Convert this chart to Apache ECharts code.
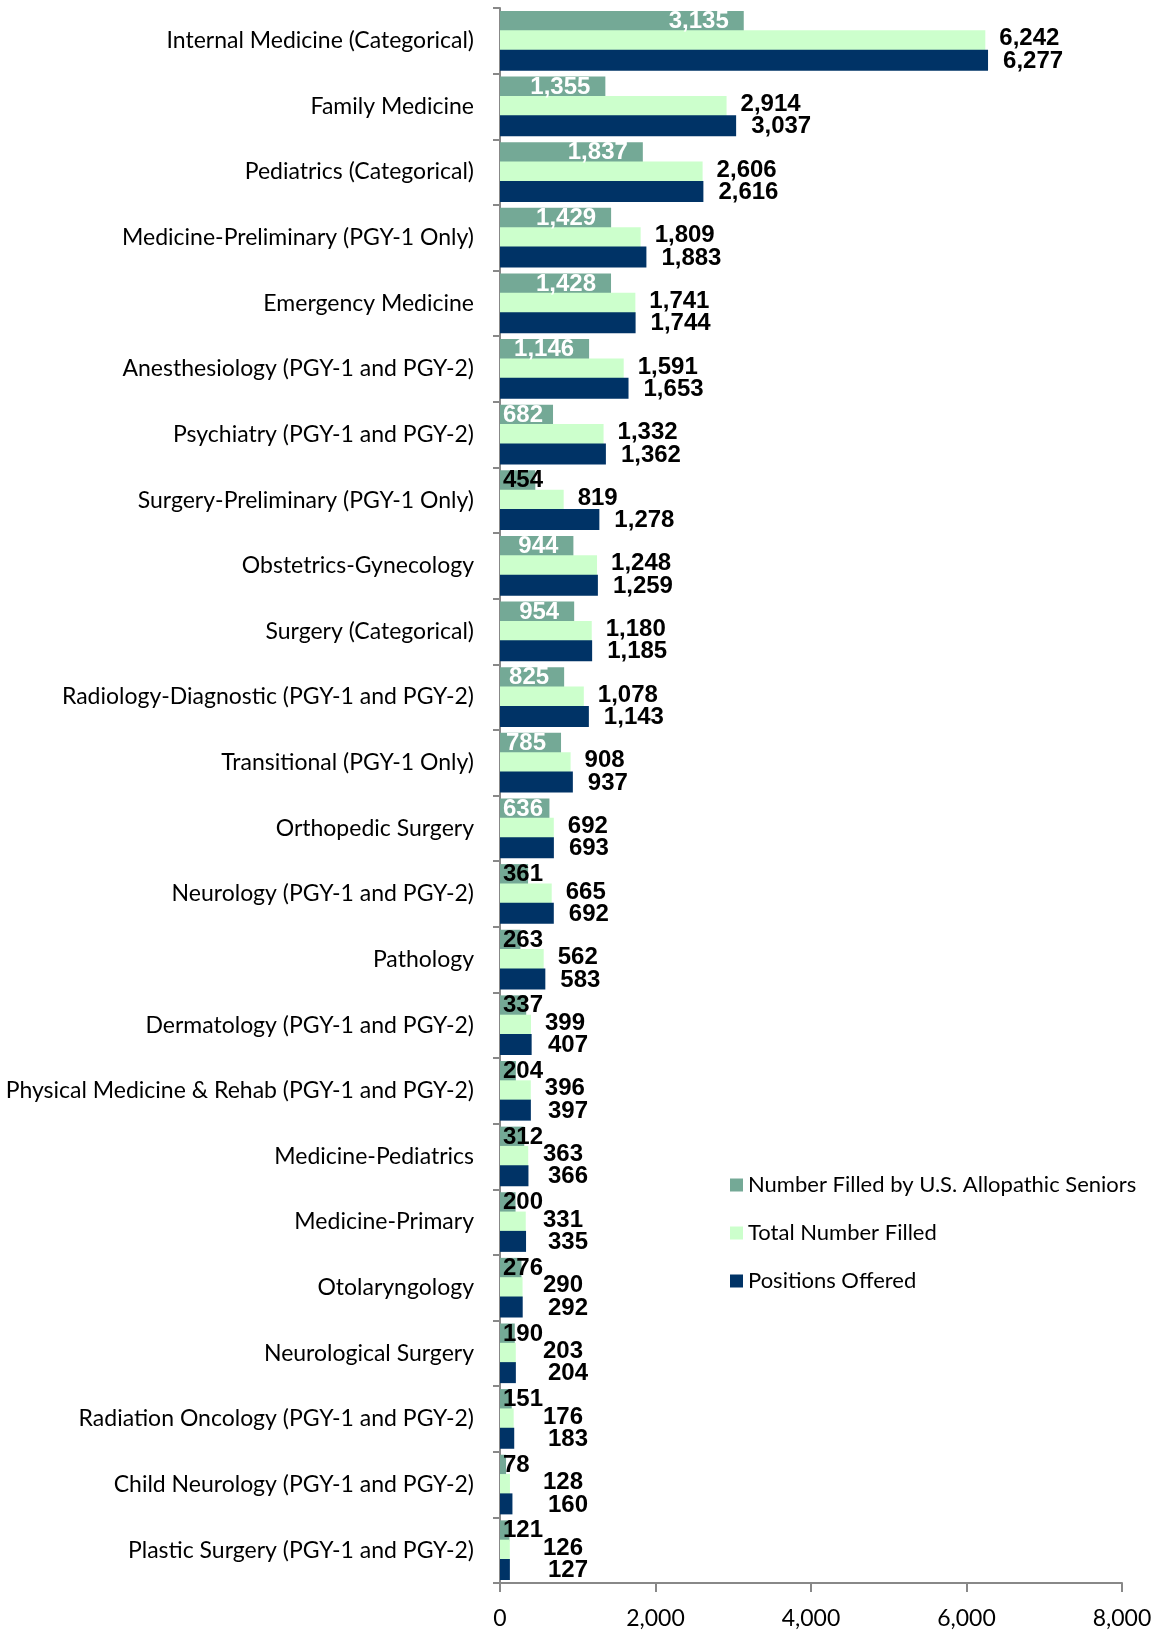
<!DOCTYPE html>
<html>
<head>
<meta charset="utf-8">
<script src="https://cdn.jsdelivr.net/npm/echarts@6/dist/echarts.min.js"></script>
<style>
  html, body { margin: 0; padding: 0; background: #fff; }
  #matchChart { width: 1157px; height: 1631px; }
</style>
</head>
<body>
<div id="matchChart"></div>
<script>
// specialties, top to bottom
let specialties = [
  "Internal Medicine (Categorical)",
  "Family Medicine",
  "Pediatrics (Categorical)",
  "Medicine-Preliminary (PGY-1 Only)",
  "Emergency Medicine",
  "Anesthesiology (PGY-1 and PGY-2)",
  "Psychiatry (PGY-1 and PGY-2)",
  "Surgery-Preliminary (PGY-1 Only)",
  "Obstetrics-Gynecology",
  "Surgery (Categorical)",
  "Radiology-Diagnostic (PGY-1 and PGY-2)",
  "Transitional (PGY-1 Only)",
  "Orthopedic Surgery",
  "Neurology (PGY-1 and PGY-2)",
  "Pathology",
  "Dermatology (PGY-1 and PGY-2)",
  "Physical Medicine & Rehab (PGY-1 and PGY-2)",
  "Medicine-Pediatrics",
  "Medicine-Primary",
  "Otolaryngology",
  "Neurological Surgery",
  "Radiation Oncology (PGY-1 and PGY-2)",
  "Child Neurology (PGY-1 and PGY-2)",
  "Plastic Surgery (PGY-1 and PGY-2)",
];

let filledBySeniors = [3135, 1355, 1837, 1429, 1428, 1146, 682, 454, 944, 954, 825, 785, 636, 361, 263, 337, 204, 312, 200, 276, 190, 151, 78, 121];
let totalFilled = [6242, 2914, 2606, 1809, 1741, 1591, 1332, 819, 1248, 1180, 1078, 908, 692, 665, 562, 399, 396, 363, 331, 290, 203, 176, 128, 126];
let positionsOffered = [6277, 3037, 2616, 1883, 1744, 1653, 1362, 1278, 1259, 1185, 1143, 937, 693, 692, 583, 407, 397, 366, 335, 292, 204, 183, 160, 127];

let seriesNames = ["Number Filled by U.S. Allopathic Seniors", "Total Number Filled", "Positions Offered"];
let xTicks = [0, 2000, 4000, 6000, 8000];

let myChart = echarts.init(document.getElementById("matchChart"));

const fmt = (v) => v.toLocaleString("en-US");
const labelFont = { fontFamily: "Liberation Sans, Arial, sans-serif", fontWeight: "bold", fontSize: 24 };
const textFont = "Lato, sans-serif";
const gridLeft = 500;

// green labels: white inside the bar when the bar is wide enough, otherwise black at the base
let seniorsData = filledBySeniors.map((v) => {
  let inside = v >= 600;
  return {
    value: v,
    label: inside
      ? { position: "insideRight", distance: 15, color: "#fff" }
      : { position: "insideLeft", distance: 3, color: "#000" },
  };
});

// keep small-bar labels from crowding the axis, dy nudges them a little up/down
const minLabelX = (minX, dy) => (p) => ({
  x: Math.max(p.labelRect.x, gridLeft + minX),
  y: p.labelRect.y + dy,
  align: "left",
  verticalAlign: "top",
});

myChart.setOption({
  animation: false,
  color: ["#74A996", "#CCFFCC", "#003366"],
  grid: { left: gridLeft, right: 35, top: 8, bottom: 48, containLabel: false },
  legend: {
    orient: "vertical",
    left: 725,
    top: 1169,
    itemWidth: 13,
    itemHeight: 13,
    itemGap: 26,
    icon: "rect",
    textStyle: { fontFamily: textFont, fontSize: 22, lineHeight: 22, color: "#000" },
    data: seriesNames,
  },
  xAxis: {
    type: "value",
    min: 0,
    max: 8000,
    interval: 2000,
    axisLine: { show: true, lineStyle: { color: "#888", width: 2 } },
    axisTick: { show: true, length: 9, lineStyle: { color: "#888", width: 2 } },
    splitLine: { show: false },
    axisLabel: {
      fontFamily: textFont,
      fontSize: 23,
      color: "#000",
      margin: 24,
      formatter: (v) => (xTicks.includes(v) ? fmt(v) : ""),
    },
  },
  yAxis: {
    type: "category",
    inverse: true,
    data: specialties,
    axisLine: { show: true, lineStyle: { color: "#888", width: 2 } },
    axisTick: { show: true, length: 7, lineStyle: { color: "#888", width: 2 } },
    axisLabel: { fontFamily: textFont, fontSize: 23, color: "#000", margin: 26 },
  },
  series: [
    {
      name: seriesNames[0],
      type: "bar",
      barWidth: 21,
      barGap: "-8%",
      data: seniorsData,
      label: { show: true, ...labelFont, formatter: (p) => fmt(p.value) },
      labelLayout: minLabelX(3, 0),
    },
    {
      name: seriesNames[1],
      type: "bar",
      barWidth: 21,
      barGap: "-8%",
      data: totalFilled,
      label: { show: true, position: "right", distance: 14, color: "#000", ...labelFont, formatter: (p) => fmt(p.value) },
      labelLayout: minLabelX(43, -2),
    },
    {
      name: seriesNames[2],
      type: "bar",
      barWidth: 21,
      barGap: "-8%",
      data: positionsOffered,
      label: { show: true, position: "right", distance: 15, color: "#000", ...labelFont, formatter: (p) => fmt(p.value) },
      labelLayout: minLabelX(48, 1),
    },
  ],
});
</script>
</body>
</html>
